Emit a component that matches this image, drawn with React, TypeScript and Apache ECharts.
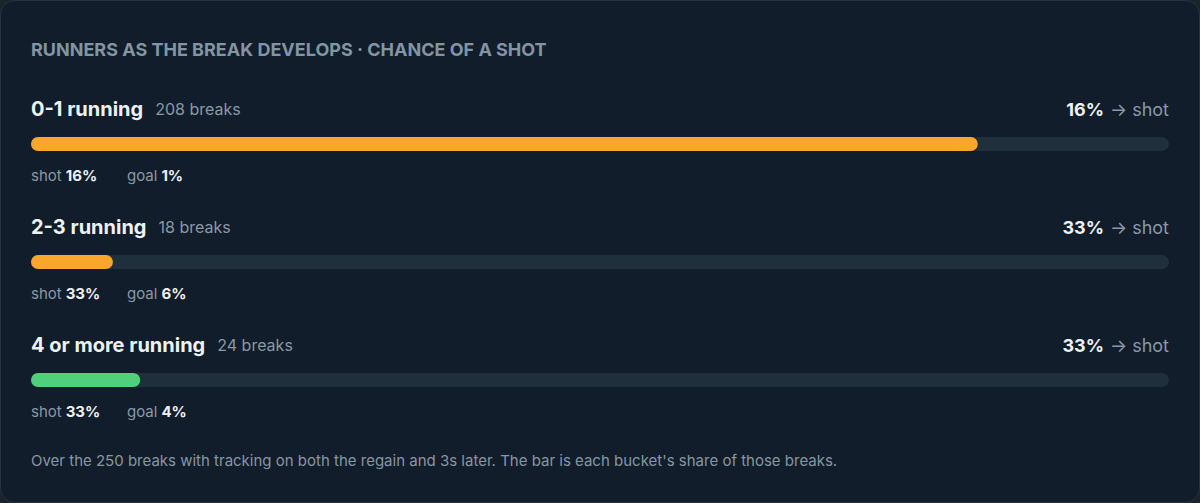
import { useEffect, useRef } from 'react'
import * as echarts from 'echarts'

// buckets of attackers running forward 3s after the regain
const buckets = ['0-1 running', '2-3 running', '4 or more running']
const breaks = [208, 18, 24]
const shotPct = [16, 33, 33]
const goalPct = [1, 6, 4]
const barColors = ['#f9a62b', '#f9a62b', '#4fd07a']
const totalBreaks = 250

const titleText = 'RUNNERS AS THE BREAK DEVELOPS · CHANCE OF A SHOT'
const footText =
  'Over the 250 breaks with tracking on both the regain and 3s later. The bar is each bucket\'s share of those breaks.'

const FONT = 'Inter, Lato, sans-serif'

export default function App() {
  const ref = useRef<HTMLDivElement>(null)

  useEffect(() => {
    document.body.style.margin = '0'
    document.body.style.background = '#1b232d'
    if (!ref.current) return
    const chart = echarts.init(ref.current, undefined, { renderer: 'svg' })

    // row layout: bar centres spaced evenly in the grid band
    const gridTop = 85
    const rowH = 118
    const rows = buckets.map((_, i) => gridTop + rowH / 2 + i * rowH)

    const texts: any[] = []
    buckets.forEach((name, i) => {
      const cy = rows[i]
      texts.push({
        type: 'text',
        x: 31,
        y: cy - 35,
        style: {
          text: `{name|${name}}{count|${breaks[i]} breaks}`,
          verticalAlign: 'middle',
          rich: {
            name: { fontFamily: FONT, fontSize: 20, fontWeight: 'bold', fill: '#eef1f4' },
            count: { fontFamily: FONT, fontSize: 16, fill: '#8a98a5', padding: [0, 0, 0, 12] },
          },
        },
      })
      texts.push({
        type: 'text',
        x: 1169,
        y: cy - 35,
        style: {
          text: `{pct|${shotPct[i]}%}{arr|→ shot}`,
          align: 'right',
          verticalAlign: 'middle',
          rich: {
            pct: { fontFamily: FONT, fontSize: 18, fontWeight: 'bold', fill: '#eef1f4' },
            arr: { fontFamily: FONT, fontSize: 18, fill: '#8a98a5', padding: [0, 0, 0, 6] },
          },
        },
      })
      texts.push({
        type: 'text',
        x: 31,
        y: cy + 31,
        style: {
          text: `{lab|shot}{val|${shotPct[i]}%}`,
          verticalAlign: 'middle',
          rich: {
            lab: { fontFamily: FONT, fontSize: 15, fill: '#8a98a5' },
            val: { fontFamily: FONT, fontSize: 15, fontWeight: 'bold', fill: '#eef1f4', padding: [0, 0, 0, 4] },
          },
        },
      })
      texts.push({
        type: 'text',
        x: 127,
        y: cy + 31,
        style: {
          text: `{lab|goal}{val|${goalPct[i]}%}`,
          verticalAlign: 'middle',
          rich: {
            lab: { fontFamily: FONT, fontSize: 15, fill: '#8a98a5' },
            val: { fontFamily: FONT, fontSize: 15, fontWeight: 'bold', fill: '#eef1f4', padding: [0, 0, 0, 4] },
          },
        },
      })
    })

    const option: echarts.EChartsOption = {
      animation: false,
      backgroundColor: '#1b232d',
      grid: { left: 31, right: 31, top: gridTop, height: rowH * 3 },
      xAxis: { type: 'value', min: 0, max: totalBreaks, show: false },
      yAxis: { type: 'category', data: buckets, inverse: true, show: false },
      series: [
        {
          type: 'bar',
          data: breaks.map((v, i) => ({ value: v, itemStyle: { color: barColors[i] } })),
          barWidth: 14,
          itemStyle: { borderRadius: 7 },
          showBackground: true,
          backgroundStyle: { color: '#1f2f3b', borderRadius: 7 },
          silent: true,
        },
      ],
      graphic: [
        {
          type: 'rect',
          z: -10,
          silent: true,
          shape: { x: 0.5, y: 0.5, width: 1199, height: 502, r: 14 },
          style: { fill: '#111d2a', stroke: '#273341', lineWidth: 1 },
        },
        {
          type: 'text',
          x: 31,
          y: 49,
          style: {
            text: titleText,
            verticalAlign: 'middle',
            fontFamily: FONT,
            fontSize: 18,
            fontWeight: 'bold',
            fill: '#8394a2',
          },
        },
        ...texts,
        {
          type: 'text',
          x: 31,
          y: 460,
          style: {
            text: footText,
            verticalAlign: 'middle',
            fontFamily: FONT,
            fontSize: 15,
            fill: '#8796a3',
          },
        },
      ],
    }
    chart.setOption(option)

    return () => {
      chart.dispose()
    }
  }, [])

  return <div ref={ref} style={{ width: 1200, height: 503 }} />
}
